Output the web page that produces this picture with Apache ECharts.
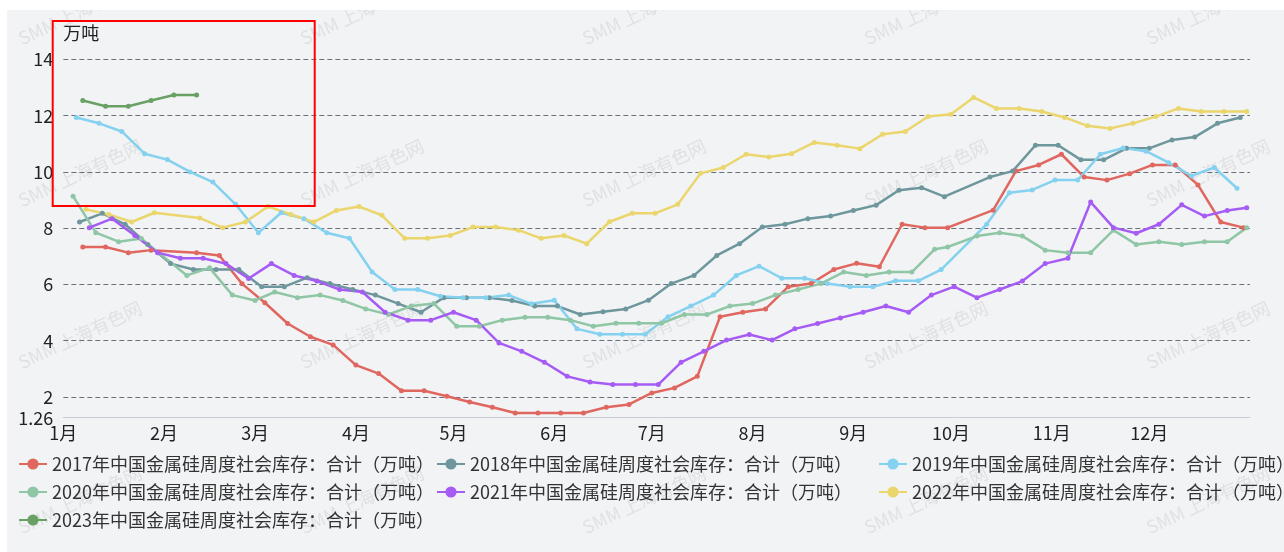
<!DOCTYPE html>
<html><head><meta charset="utf-8">
<script src="https://cdn.jsdelivr.net/npm/echarts@6/dist/echarts.min.js"></script>
<style>
html,body{margin:0;padding:0;background:#fff;width:1284px;height:552px;overflow:hidden}
#c{position:absolute;left:7px;top:10px;width:1277px;height:542px;background:#f2f3f5}
</style>
</head><body><div id="c"></div><script>
const years = ['2017','2018','2019','2020','2021','2022','2023'];
const monthLabelSuffix = '月';
const yUnit = '万吨';

const dates2017 = ['01-07','01-14','01-21','01-28','02-11','02-18','02-25','03-04','03-11','03-18','03-25','04-01','04-08','04-15','04-22','04-29','05-06','05-13','05-20','05-27','06-03','06-10','06-17','06-24','07-01','07-08','07-15','07-22','07-29','08-05','08-12','08-19','08-26','09-02','09-09','09-16','09-23','09-30','10-14','10-21','10-28','11-04','11-11','11-18','11-25','12-02','12-09','12-16','12-23','12-30'];
const values2017 = [7.33,7.33,7.13,7.22,7.13,7.03,6.02,5.35,4.61,4.14,3.85,3.13,2.83,2.22,2.22,2.02,1.82,1.63,1.43,1.43,1.43,1.43,1.63,1.73,2.14,2.32,2.73,4.85,5.01,5.13,5.92,6.03,6.53,6.75,6.63,8.14,8.02,8.02,8.64,10.03,10.25,10.63,9.82,9.71,9.94,10.25,10.25,9.54,8.22,8.02];

const dates2018 = ['01-06','01-13','01-20','01-27','02-03','02-10','02-17','02-24','03-03','03-10','03-17','03-24','03-31','04-07','04-14','04-21','04-28','05-05','05-12','05-19','05-26','06-02','06-09','06-16','06-23','06-30','07-07','07-14','07-21','07-28','08-04','08-11','08-18','08-25','09-01','09-08','09-15','09-22','09-29','10-13','10-20','10-27','11-03','11-10','11-17','11-24','12-01','12-08','12-15','12-22','12-29'];
const values2018 = [8.22,8.53,8.14,7.42,6.74,6.53,6.53,6.53,5.92,5.92,6.24,6.03,5.82,5.62,5.32,5.01,5.53,5.53,5.53,5.43,5.23,5.23,4.93,5.03,5.13,5.44,6.03,6.32,7.03,7.45,8.04,8.14,8.34,8.43,8.63,8.82,9.35,9.44,9.12,9.82,10.03,10.95,10.95,10.43,10.43,10.84,10.84,11.14,11.24,11.73,11.94];

const dates2019 = ['01-05','01-12','01-19','01-26','02-02','02-09','02-16','02-23','03-02','03-09','03-16','03-23','03-30','04-06','04-13','04-20','04-27','05-04','05-11','05-18','05-25','06-01','06-08','06-15','06-22','06-29','07-06','07-13','07-20','07-27','08-03','08-10','08-17','08-24','08-31','09-07','09-14','09-21','09-28','10-12','10-19','10-26','11-02','11-09','11-16','11-23','11-30','12-07','12-14','12-21','12-28'];
const values2019 = [11.94,11.73,11.44,10.65,10.44,10.0,9.64,8.85,7.84,8.55,8.34,7.84,7.64,6.44,5.82,5.82,5.58,5.53,5.53,5.62,5.31,5.44,4.42,4.23,4.23,4.23,4.85,5.23,5.62,6.32,6.65,6.22,6.22,6.03,5.92,5.92,6.13,6.13,6.53,8.14,9.26,9.36,9.71,9.71,10.63,10.85,10.74,10.33,9.86,10.16,9.42];

const dates2020 = ['01-04','01-11','01-18','01-25','02-08','02-15','02-22','03-01','03-07','03-14','03-21','03-28','04-04','04-11','04-18','04-25','05-02','05-09','05-16','05-23','05-30','06-06','06-13','06-20','06-27','07-04','07-11','07-18','07-25','08-01','08-08','08-15','08-22','08-29','09-05','09-12','09-19','09-26','09-30','10-09','10-16','10-23','10-30','11-06','11-13','11-20','11-27','12-04','12-11','12-18','12-25','12-31'];
const values2020 = [9.14,7.84,7.52,7.63,6.32,6.59,5.62,5.43,5.73,5.53,5.62,5.43,5.13,4.93,5.23,5.32,4.51,4.51,4.73,4.83,4.83,4.73,4.51,4.62,4.62,4.62,4.93,4.93,5.23,5.32,5.62,5.82,6.03,6.44,6.32,6.44,6.44,7.25,7.33,7.72,7.84,7.72,7.22,7.13,7.13,7.93,7.42,7.52,7.42,7.52,7.52,8.02];

const dates2021 = ['01-09','01-16','01-23','01-30','02-06','02-13','02-20','02-27','03-06','03-13','03-20','03-27','04-03','04-10','04-17','04-24','05-01','05-08','05-15','05-22','05-29','06-05','06-12','06-19','06-26','07-03','07-10','07-17','07-24','07-31','08-07','08-14','08-21','08-28','09-04','09-11','09-18','09-25','10-02','10-09','10-16','10-23','10-30','11-06','11-13','11-20','11-27','12-04','12-11','12-18','12-25','12-31'];
const values2021 = [8.02,8.34,7.74,7.13,6.93,6.93,6.74,6.21,6.74,6.32,6.12,5.82,5.73,5.01,4.73,4.73,5.01,4.73,3.92,3.62,3.23,2.73,2.53,2.44,2.44,2.44,3.23,3.62,4.02,4.22,4.02,4.42,4.61,4.81,5.01,5.23,5.01,5.62,5.92,5.53,5.82,6.12,6.74,6.93,8.93,8.02,7.82,8.14,8.83,8.43,8.63,8.73];

const dates2022 = ['01-08','01-15','01-22','01-29','02-12','02-19','02-26','03-05','03-12','03-19','03-26','04-02','04-09','04-16','04-23','04-30','05-07','05-14','05-21','05-28','06-04','06-11','06-18','06-25','07-02','07-09','07-16','07-23','07-30','08-06','08-13','08-20','08-27','09-03','09-10','09-17','09-24','10-01','10-08','10-15','10-22','10-29','11-05','11-12','11-19','11-26','12-03','12-10','12-17','12-24','12-31'];
const values2022 = [8.67,8.49,8.22,8.55,8.36,8.02,8.22,8.77,8.49,8.22,8.63,8.77,8.46,7.64,7.64,7.74,8.04,8.04,7.93,7.64,7.74,7.45,8.23,8.53,8.53,8.85,9.95,10.16,10.63,10.53,10.65,11.05,10.95,10.83,11.34,11.44,11.97,12.05,12.65,12.26,12.26,12.15,11.94,11.64,11.55,11.73,11.97,12.26,12.15,12.15,12.15];

const dates2023 = ['01-07','01-14','01-21','01-28','02-04','02-11'];
const values2023 = [12.54,12.34,12.34,12.54,12.74,12.74];

const allDates = [dates2017,dates2018,dates2019,dates2020,dates2021,dates2022,dates2023];
const allValues = [values2017,values2018,values2019,values2020,values2021,values2022,values2023];
const colors = ['#e0675f','#6e979d','#84d1f0','#8fc6a6','#a65cf4','#ead66c','#69a165'];
const names = years.map(y => y + '年中国金属硅周度社会库存：合计（万吨）');

const FONT = '"Noto Sans CJK SC","Noto Sans",sans-serif';
const chart = echarts.init(document.getElementById('c'), null, {renderer:'canvas'});

const series = years.map((y, i) => ({
  name: names[i],
  type: 'line',
  data: allDates[i].map((d, j) => ['2001-' + d, allValues[i][j]]),
  symbol: 'circle',
  symbolSize: 5,
  showSymbol: true,
  lineStyle: {width: 2.5, color: colors[i]},
  itemStyle: {color: colors[i]},
  emphasis: {disabled: true},
  animation: false
}));

// watermark positions (container coords)
const wmCols = [73, 355, 637, 919, 1201];
const wmRows = [1, 163, 325, 490];
const graphics = [];
wmRows.forEach(r => wmCols.forEach(c => {
  graphics.push({type:'text', x:c, y:r, rotation: 25*Math.PI/180, silent:true, z:0,
    style:{text:'SMM 上海有色网', fill:'rgba(130,130,130,0.16)', font:'18px ' + FONT, align:'center', verticalAlign:'middle'}});
}));
graphics.push({type:'rect', silent:true, z:100, shape:{x:45.7, y:11, width:262, height:185},
  style:{fill:'none', stroke:'#ff0000', lineWidth:2}});

const legendText = {fontSize:18, color:'#333', fontFamily: FONT};
const legendCommon = {orient:'vertical', top:440, itemGap:10, itemWidth:28, itemHeight:14, textStyle:legendText, selectedMode:false};

chart.setOption({
  animation: false,
  backgroundColor: 'transparent',
  textStyle: {fontFamily: FONT},
  grid: {left:56.3, right:34, top:49.5, bottom:134.3, containLabel:false},
  legend: [
    Object.assign({data:[names[0], names[3], names[6]], left:6}, legendCommon),
    Object.assign({data:[names[1], names[4]], left:424}, legendCommon),
    Object.assign({data:[names[2], names[5]], left:866}, legendCommon)
  ],
  xAxis: {
    type: 'time',
    min: new Date(2001,0,1).getTime(),
    max: new Date(2002,0,1).getTime(),
    splitNumber: 12,
    axisLine: {lineStyle:{color:'#c8ccd4', width:1}},
    axisTick: {show:false},
    splitLine: {show:false},
    axisLabel: {
      formatter: v => (new Date(v).getMonth() + 1) + monthLabelSuffix,
      color:'#222', fontSize:18, margin:6, fontFamily: FONT,
      showMaxLabel:false, hideOverlap:false
    }
  },
  yAxis: {
    type: 'value',
    min: 1.26,
    max: 14,
    splitNumber: 6,
    name: yUnit,
    nameLocation: 'end',
    nameGap: 17,
    nameTextStyle: {align:'left', fontSize:18, color:'#222', fontFamily: FONT},
    axisLine: {show:false},
    axisTick: {show:false},
    axisLabel: {fontSize:18, color:'#222', margin:10, fontFamily: FONT},
    splitLine: {show:true, showMinLine:false, lineStyle:{type:[5,3], color:'#6b6f7a', width:1}}
  },
  graphic: graphics,
  series: series
});
</script></body></html>
